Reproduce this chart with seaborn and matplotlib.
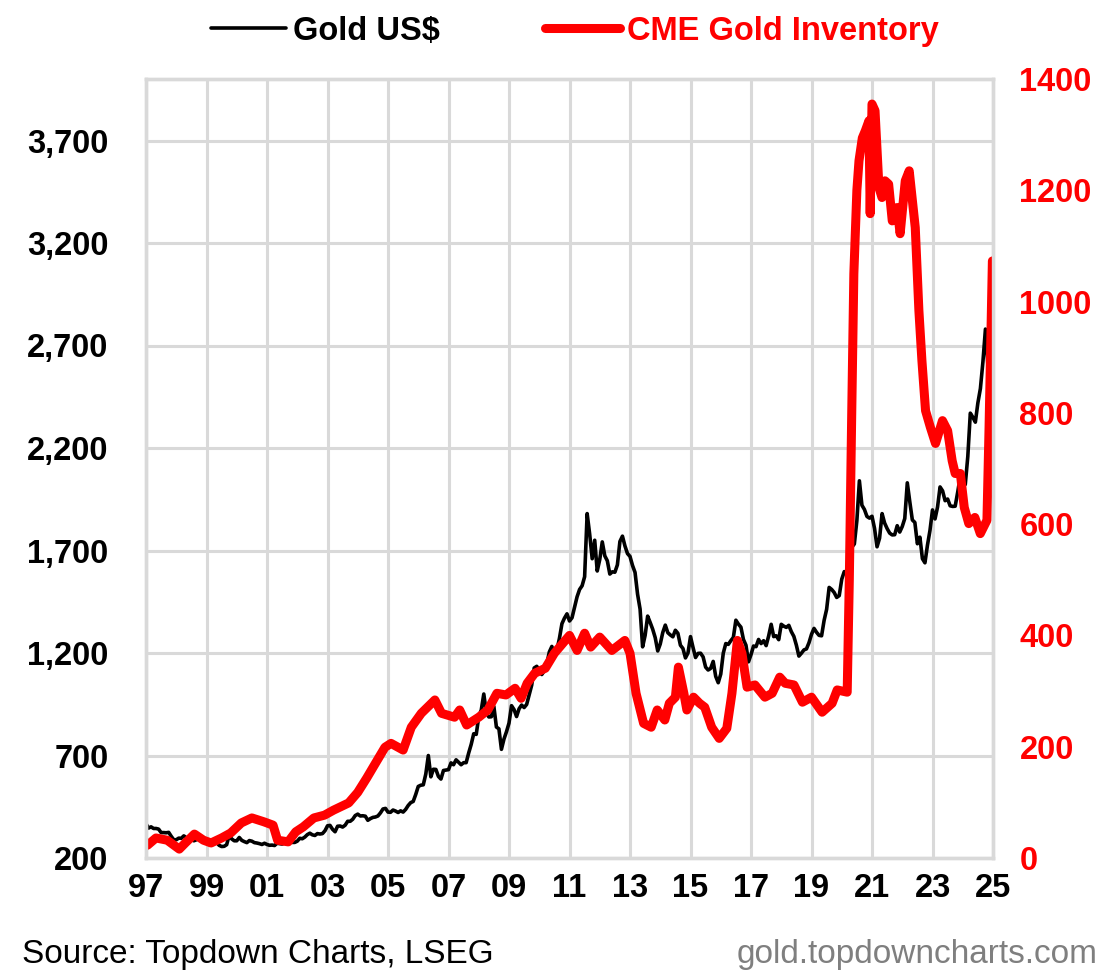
import numpy as np
import pandas as pd
import matplotlib
matplotlib.use("Agg")
import matplotlib.pyplot as plt
from matplotlib.ticker import FuncFormatter
import seaborn as sns

# Gold US$ monthly (1997-01 .. 2024-12)
gold_1997 = [367, 346, 352, 344, 344, 341, 324, 324, 323, 325, 306, 289]
gold_1998 = [289, 297, 296, 308, 299, 292, 293, 284, 289, 296, 294, 291]
gold_1999 = [287, 288, 286, 282, 277, 262, 256, 257, 265, 311, 293, 284]
gold_2000 = [284, 300, 286, 280, 275, 285, 282, 275, 273, 270, 266, 272]
gold_2001 = [266, 262, 263, 261, 272, 270, 268, 273, 283, 283, 276, 276]
gold_2002 = [282, 296, 294, 302, 314, 321, 313, 310, 319, 317, 319, 333]
gold_2003 = [357, 359, 340, 328, 355, 356, 351, 360, 379, 379, 389, 407]
gold_2004 = [414, 405, 406, 404, 384, 392, 398, 400, 405, 420, 439, 442]
gold_2005 = [424, 423, 434, 429, 422, 430, 424, 437, 456, 470, 476, 510]
gold_2006 = [549, 555, 557, 610, 700, 596, 633, 632, 598, 585, 627, 629]
gold_2007 = [631, 664, 655, 679, 667, 655, 665, 665, 712, 754, 806, 803]
gold_2008 = [889, 922, 1000, 909, 888, 889, 939, 839, 830, 730, 780, 816]
gold_2009 = [858, 943, 924, 890, 928, 946, 934, 949, 996, 1043, 1127, 1135]
gold_2010 = [1118, 1095, 1113, 1148, 1205, 1232, 1193, 1215, 1271, 1343, 1370, 1391]
gold_2011 = [1356, 1372, 1424, 1474, 1510, 1528, 1572, 1880, 1780, 1660, 1750, 1600]
gold_2012 = [1656, 1742, 1674, 1650, 1585, 1596, 1594, 1630, 1744, 1770, 1722, 1685]
gold_2013 = [1671, 1627, 1593, 1487, 1414, 1230, 1286, 1380, 1349, 1316, 1275, 1210]
gold_2014 = [1244, 1300, 1336, 1299, 1288, 1279, 1311, 1296, 1238, 1222, 1176, 1200]
gold_2015 = [1280, 1227, 1178, 1198, 1199, 1181, 1131, 1117, 1125, 1159, 1086, 1055]
gold_2016 = [1097, 1199, 1246, 1242, 1260, 1276, 1360, 1341, 1326, 1266, 1238, 1157]
gold_2017 = [1192, 1234, 1231, 1266, 1246, 1260, 1236, 1283, 1340, 1280, 1284, 1265]
gold_2018 = [1340, 1331, 1325, 1335, 1304, 1281, 1238, 1185, 1199, 1215, 1220, 1250]
gold_2019 = [1291, 1320, 1301, 1286, 1284, 1359, 1413, 1520, 1510, 1495, 1471, 1480]
gold_2020 = [1560, 1597, 1592, 1683, 1716, 1732, 1846, 2040, 1921, 1900, 1866, 1858]
gold_2021 = [1867, 1808, 1718, 1760, 1880, 1834, 1807, 1785, 1776, 1777, 1821, 1790]
gold_2022 = [1817, 1856, 2030, 1937, 1849, 1837, 1733, 1765, 1660, 1640, 1726, 1798]
gold_2023 = [1898, 1854, 1912, 2010, 1991, 1943, 1951, 1918, 1915, 1916, 1985, 2060]
gold_2024 = [2033, 2022, 2158, 2370, 2350, 2326, 2420, 2490, 2620, 2780, 2600, 2630]

gold_years = list(range(1997, 2025))
gold_values = (gold_1997 + gold_1998 + gold_1999 + gold_2000 + gold_2001 + gold_2002
               + gold_2003 + gold_2004 + gold_2005 + gold_2006 + gold_2007 + gold_2008
               + gold_2009 + gold_2010 + gold_2011 + gold_2012 + gold_2013 + gold_2014
               + gold_2015 + gold_2016 + gold_2017 + gold_2018 + gold_2019 + gold_2020
               + gold_2021 + gold_2022 + gold_2023 + gold_2024)

# CME gold inventory
cme_dates = [1997.05, 1997.33, 1997.7, 1998.1, 1998.3, 1998.6, 1998.9, 1999.15, 1999.5, 1999.8,
             2000.15, 2000.5, 2000.9, 2001.2, 2001.35, 2001.7, 2001.95, 2002.2, 2002.55, 2002.9,
             2003.2, 2003.7, 2004.0, 2004.3, 2004.55, 2004.9, 2005.1, 2005.5, 2005.77, 2006.1,
             2006.55, 2006.77, 2007.2, 2007.37, 2007.6, 2008.0, 2008.3, 2008.6, 2008.9, 2009.2,
             2009.4, 2009.6, 2009.85, 2010.2, 2010.5, 2011.0, 2011.25, 2011.5, 2011.7, 2012.0,
             2012.4, 2012.83, 2013.0, 2013.2, 2013.45, 2013.7, 2013.9, 2014.15, 2014.3, 2014.5,
             2014.6, 2014.78, 2014.88, 2015.1, 2015.3, 2015.47, 2015.7, 2015.95, 2016.2, 2016.37,
             2016.55, 2016.7, 2016.87, 2017.13, 2017.46, 2017.7, 2017.95, 2018.13, 2018.42, 2018.7,
             2019.0, 2019.35, 2019.68, 2019.85, 2020.18, 2020.25, 2020.33, 2020.4, 2020.5, 2020.57,
             2020.68, 2020.78, 2020.9, 2020.94, 2021.0, 2021.1, 2021.23, 2021.33, 2021.43, 2021.55,
             2021.67, 2021.83, 2021.93, 2022.1, 2022.23, 2022.43, 2022.55, 2022.65, 2022.77, 2022.93,
             2023.1, 2023.33, 2023.5, 2023.65, 2023.75, 2023.92, 2024.05, 2024.2, 2024.4, 2024.58,
             2024.8, 2024.87, 2024.98]
cme_values = [23, 36, 32, 16, 27, 43, 32, 27, 36, 45,
              63, 72, 65, 59, 32, 29, 47, 56, 72, 77,
              86, 99, 118, 144, 167, 199, 206, 194, 235, 260,
              284, 260, 253, 266, 239, 253, 266, 296, 293, 305,
              287, 314, 332, 341, 368, 400, 373, 404, 379, 397,
              373, 391, 368, 296, 242, 235, 266, 248, 278, 289,
              343, 296, 266, 289, 278, 271, 235, 215, 233, 296,
              391, 368, 307, 311, 289, 296, 325, 314, 311, 280,
              289, 262, 278, 302, 298, 500, 800, 1050, 1200, 1253,
              1294, 1307, 1325, 1158, 1355, 1343, 1205, 1187, 1217, 1211,
              1145, 1169, 1122, 1217, 1235, 1133, 984, 894, 804, 774,
              745, 786, 768, 714, 691, 691, 630, 601, 612, 583,
              607, 774, 1073]

x_ticks = list(range(1997, 2026, 2))
x_labels = ["97", "99", "01", "03", "05", "07", "09", "11", "13", "15",
            "17", "19", "21", "23", "25"]
left_ticks = [200, 700, 1200, 1700, 2200, 2700, 3200, 3700]
right_ticks = [0, 200, 400, 600, 800, 1000, 1200, 1400]

gold_df = pd.DataFrame({
    "date": [y + m / 12 for y in gold_years for m in range(12)],
    "gold": gold_values,
})
cme_df = pd.DataFrame({"date": cme_dates, "cme": cme_values})

sns.set_style("white")
plt.rcParams["font.family"] = ["Liberation Sans", "DejaVu Sans"]

GRID = "#d9d9d9"
RED = "#ff0000"
FS = 23.5

fig = plt.figure(figsize=(11.1, 9.75), dpi=100)
ax = fig.add_axes([146 / 1110, 117 / 975, 847 / 1110, 779 / 975])
ax2 = ax.twinx()

sns.lineplot(data=gold_df, x="date", y="gold", ax=ax, color="black", lw=2.6)
sns.lineplot(data=cme_df, x="date", y="cme", ax=ax2, color=RED, lw=6.5,
             solid_capstyle="round")

ax.set_xlim(1997, 2025)
ax.set_ylim(200, 4000)
ax2.set_ylim(0, 1400)

ax.set_xticks(x_ticks)
ax.set_xticklabels(x_labels)
ax.set_yticks(left_ticks)
ax.yaxis.set_major_formatter(FuncFormatter(lambda v, p: f"{int(v):,}"))
ax2.set_yticks(right_ticks)

ax.grid(True, color=GRID, lw=2.2)
ax.set_axisbelow(True)
ax2.grid(False)
for a in (ax, ax2):
    for s in a.spines.values():
        s.set_color(GRID)
        s.set_linewidth(2.4)
    a.set_xlabel("")
    a.set_ylabel("")

ax.tick_params(axis="both", length=0, labelsize=FS, labelcolor="black")
ax.tick_params(axis="x", pad=11)
ax.tick_params(axis="y", pad=27)
ax2.tick_params(axis="y", length=0, labelsize=FS, labelcolor=RED, pad=19)
for lab in ax.get_xticklabels() + ax.get_yticklabels() + ax2.get_yticklabels():
    lab.set_fontweight("bold")

handles = [plt.Line2D([], [], color="black", lw=2.6),
           plt.Line2D([], [], color=RED, lw=6.5)]
leg = fig.legend(handles, ["Gold US$", "CME Gold Inventory"], loc="center",
                 bbox_to_anchor=(0.518, 0.968), ncol=2, frameon=False,
                 handlelength=2.3, handletextpad=0.22, columnspacing=3.2,
                 prop={"size": FS, "weight": "bold"},
                 labelcolor=["black", RED])

fig.text(22 / 1110, 0.021, "Source: Topdown Charts, LSEG", fontsize=24,
         ha="left", va="center", color="black")
fig.text(1098 / 1110, 0.021, "gold.topdowncharts.com", fontsize=24,
         ha="right", va="center", color="#7f7f7f")

fig.savefig("out.png", dpi=100)
